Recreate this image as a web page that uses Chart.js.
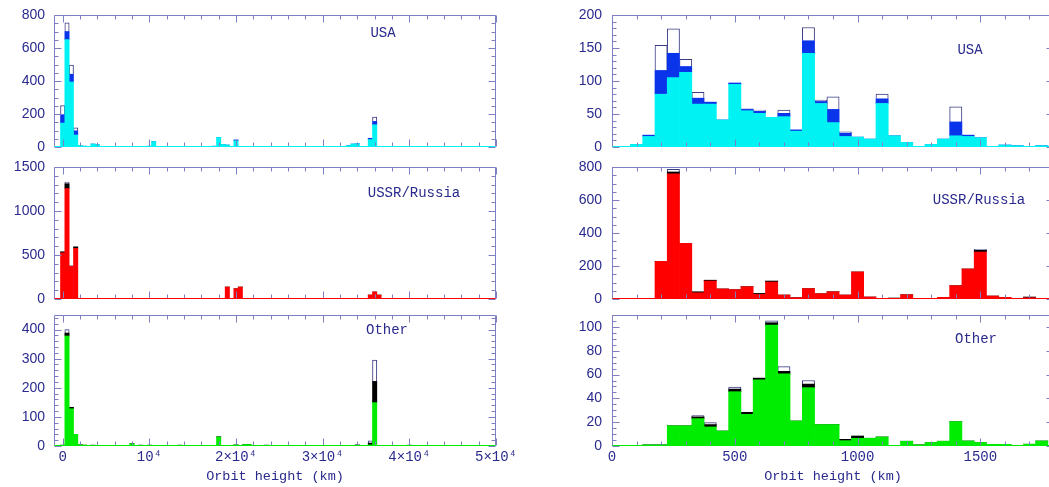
<!DOCTYPE html>
<html>
<head>
<meta charset="utf-8">
<script src="https://cdn.jsdelivr.net/npm/chart.js@4.4.0/dist/chart.umd.min.js"></script>
<style>
  html, body { margin: 0; padding: 0; background: #fff; overflow: hidden; width: 1049px; height: 487px; }
  canvas { position: absolute; }
</style>
</head>
<body>
<canvas id="usaLeft" width="530" height="165" style="left:0;top:0"></canvas>
<canvas id="usaRight" width="500" height="165" style="left:560px;top:0"></canvas>
<canvas id="ussrLeft" width="530" height="160" style="left:0;top:155px"></canvas>
<canvas id="ussrRight" width="500" height="160" style="left:560px;top:155px"></canvas>
<canvas id="otherLeft" width="530" height="187" style="left:0;top:300px"></canvas>
<canvas id="otherRight" width="500" height="187" style="left:560px;top:300px"></canvas>
<script>
// ---- left column: 500 km bins (bin centres), only the non empty ones ----
var leftUsaBins  = [0, 500, 1000, 1500, 2000, 2500, 3500, 4000, 5000, 7000, 10000, 10500, 12000, 15500, 16000, 17500, 18000, 18500, 19000, 20000, 21000, 25500, 33000, 33500, 34000, 34500, 35500, 36000, 36500, 39000, 44000];
var leftUsaCyan  = [145, 651, 394, 73, 10, 5, 18, 15, 3, 0, 5, 33, 3, 0, 2, 5, 58, 15, 12, 38, 3, 0, 8, 18, 20, 3, 45, 135, 0, 0, 0];
var leftUsaBlue  = [51, 49, 47, 25, 0, 0, 0, 0, 0, 3, 0, 0, 0, 3, 0, 0, 0, 0, 0, 5, 0, 2, 0, 0, 0, 0, 8, 20, 3, 3, 2];
var leftUsaWhite = [55, 53, 55, 18, 0, 0, 0, 0, 0, 0, 0, 0, 0, 0, 0, 0, 0, 0, 0, 0, 0, 0, 0, 0, 0, 0, 0, 27, 0, 0, 0];

var leftUssrBins  = [0, 500, 1000, 1500, 2000, 9000, 19000, 20000, 20500, 35500, 36000, 36500];
var leftUssrRed   = [525, 1255, 370, 575, 3, 3, 136, 117, 136, 45, 80, 45];
var leftUssrBlack = [12, 55, 5, 18, 0, 0, 0, 0, 0, 0, 0, 0];
var leftUssrWhite = [0, 20, 0, 0, 0, 0, 0, 0, 0, 0, 0, 0];

var leftOtherBins  = [0, 500, 1000, 1500, 2000, 2500, 3500, 8000, 9000, 10000, 13500, 18000, 20000, 21000, 21500, 23500, 34000, 35500, 36000, 40000];
var leftOtherGreen = [3, 378, 128, 40, 5, 3, 0, 8, 0, 0, 0, 31, 4, 5, 5, 0, 0, 4, 149, 0];
var leftOtherBlack = [0, 10, 5, 0, 0, 0, 3, 0, 3, 3, 3, 1, 0, 0, 0, 3, 4, 6, 73, 3];
var leftOtherWhite = [0, 12, 0, 0, 0, 0, 0, 0, 0, 0, 0, 0, 0, 0, 0, 0, 0, 8, 73, 0];

var leftXTicks  = [0, 10000, 20000, 30000, 40000, 50000];
var leftXLabels = ['0', '10\u2074', '2\u00d710\u2074', '3\u00d710\u2074', '4\u00d710\u2074', '5\u00d710\u2074'];

// ---- right column: 50 km bins (bin centres) ----
var rightBins = [0, 50, 100, 150, 200, 250, 300, 350, 400, 450, 500, 550, 600, 650, 700, 750, 800, 850, 900, 950,
                 1000, 1050, 1100, 1150, 1200, 1250, 1300, 1350, 1400, 1450, 1500, 1550, 1600, 1650, 1700, 1750];

var rightUsaCyan  = [0, 1, 4, 16, 80, 105, 113, 65, 65, 41, 95, 55, 51, 45, 46, 24, 142, 66, 37, 16, 15, 12, 66, 17, 7, 1, 4, 12, 17, 16, 14, 1, 3, 2, 1, 2];
var rightUsaBlue  = [0, 0, 0, 2, 36, 37, 9, 9, 3, 0, 2, 2, 3, 0, 5, 2, 19, 3, 20, 5, 0, 0, 7, 0, 0, 0, 0, 0, 21, 2, 0, 0, 0, 0, 0, 0];
var rightUsaWhite = [0, 0, 0, 0, 38, 37, 11, 9, 0, 0, 0, 1, 2, 0, 5, 0, 20, 2, 19, 2, 0, 0, 7, 0, 0, 0, 0, 0, 23, 0, 0, 0, 0, 0, 0, 0];

var rightUssrRed   = [0, 0, 0, 2, 228, 758, 337, 38, 109, 61, 57, 75, 28, 103, 24, 8, 63, 32, 44, 24, 164, 12, 0, 0, 26, 0, 0, 10, 81, 182, 285, 18, 10, 0, 8, 0];
var rightUssrBlack = [0, 0, 0, 0, 0, 12, 0, 6, 5, 0, 0, 0, 6, 6, 0, 0, 0, 0, 0, 0, 0, 0, 0, 6, 0, 3, 0, 0, 0, 0, 10, 0, 0, 0, 4, 0];
var rightUssrWhite = [0, 0, 0, 0, 0, 16, 0, 0, 0, 0, 0, 0, 0, 0, 0, 0, 0, 0, 0, 0, 0, 0, 0, 0, 0, 0, 0, 0, 0, 0, 6, 0, 0, 0, 0, 0];

var rightOtherGreen = [0, 0, 0, 1, 1, 17, 17, 23, 16, 12.6, 45.6, 26.6, 55.5, 101.5, 60.5, 21, 49, 18, 18, 4.5, 6.5, 6.5, 7.6, 0, 4, 1, 3, 4, 20.5, 4.2, 3, 1.4, 1.4, 0, 1.5, 4.2];
var rightOtherBlack = [0, 0, 0, 0, 0, 0, 0, 1.5, 2, 0, 2.2, 1.7, 1.5, 2, 2.2, 0, 3, 0, 0, 1.1, 1.9, 0, 0, 0, 0, 0, 0, 0, 0, 0, 0, 0, 0, 0, 0, 0];
var rightOtherWhite = [0, 0, 0, 0, 0, 0, 0, 1, 1.6, 0, 1.7, 0, 0, 1.5, 4, 0, 3, 0, 0, 0, 0, 0, 0, 0, 0, 0, 0, 0, 0, 0, 0, 0, 0, 0, 0, 0];

var rightXTicks  = [0, 500, 1000, 1500];
var rightXLabels = ['0', '500', '1000', '1500'];

var FRAME = '#7e7ec2';
var TEXT = '#2a2a8e';
var OUTLINE = '#3a3a84';
var CYAN = '#00f2f2', BLUE = '#0a34ea', RED = '#ff0000', GREEN = '#00ec00', BLACK = '#000000';

function toPoints(bins, vals) {
  return bins.map(function (b, i) { return { x: b, y: vals[i] }; });
}

// frame with inward ticks on all four sides + the panel name
var framePlugin = {
  id: 'frame',
  afterDatasetsDraw: function (chart, args, o) {
    var ctx = chart.ctx, a = chart.chartArea, sx = chart.scales.x, sy = chart.scales.y;
    var L = Math.round(a.left) + 0.5, R = Math.round(a.right) - 0.5;
    var T = Math.round(a.top) + 0.5, B = Math.round(a.bottom) - 0.5;
    ctx.save();
    ctx.lineWidth = 1;
    ctx.strokeStyle = FRAME;
    function line(x1, y1, x2, y2) { ctx.beginPath(); ctx.moveTo(x1, y1); ctx.lineTo(x2, y2); ctx.stroke(); }
    var i, v, p, len;
    for (i = Math.ceil(sx.min / o.xMinor); i * o.xMinor <= sx.max; i++) {
      v = i * o.xMinor;
      p = Math.round(sx.getPixelForValue(v)) + 0.5;
      len = (v % o.xMajor === 0) ? 7 : 4;
      line(p, B, p, B - len);
      line(p, T, p, T + len);
    }
    for (i = Math.ceil(sy.min / o.yMinor); i * o.yMinor <= sy.max; i++) {
      v = i * o.yMinor;
      p = Math.round(sy.getPixelForValue(v)) + 0.5;
      len = (v % o.yMajor === 0) ? 7 : 4;
      line(L, p, L + len, p);
      line(R, p, R - len, p);
    }
    line(L, T, R, T);
    line(L, T, L, B);
    line(R, T, R, B);
    ctx.strokeStyle = o.base;
    line(L, B, R, B);
    ctx.restore();
  },
  afterDraw: function (chart, args, o) {
    var ctx = chart.ctx, a = chart.chartArea;
    ctx.save();
    ctx.fillStyle = TEXT;
    ctx.font = '14px "Liberation Mono", monospace';
    ctx.textAlign = 'center';
    ctx.textBaseline = 'middle';
    ctx.fillText(o.label, a.left + o.labelX, a.top + o.labelY);
    ctx.restore();
  }
};

function makePanel(id, p) {
  var ctx = document.getElementById(id).getContext('2d');
  return new Chart(ctx, {
    type: 'bar',
    data: {
      datasets: [
        { data: toPoints(p.bins, p.layers[0]), backgroundColor: p.colors[0], borderWidth: 0 },
        { data: toPoints(p.bins, p.layers[1]), backgroundColor: p.colors[1], borderWidth: 0 },
        { data: toPoints(p.bins, p.layers[2]), backgroundColor: '#ffffff', borderColor: OUTLINE, borderWidth: 1, borderSkipped: 'bottom' }
      ]
    },
    options: {
      responsive: false,
      maintainAspectRatio: false,
      animation: false,
      devicePixelRatio: 1,
      events: [],
      categoryPercentage: 1,
      barPercentage: 1,
      layout: { padding: { top: p.padTop, right: p.padRight, left: 0, bottom: 0 } },
      plugins: {
        legend: { display: false },
        tooltip: { enabled: false },
        frame: {
          base: p.colors[0], label: p.label, labelX: p.labelX, labelY: p.labelY,
          xMinor: p.xMinor, xMajor: p.xMajor, yMinor: p.yMinor, yMajor: p.yMajor
        }
      },
      scales: {
        x: {
          type: 'linear',
          stacked: true,
          offset: false,
          min: p.xMin,
          max: p.xMax,
          grid: { display: false, drawTicks: false },
          border: { display: false },
          afterBuildTicks: function (s) { s.ticks = p.xTicks.map(function (v) { return { value: v }; }); },
          afterFit: function (s) { s.height = p.xAxisH; s.paddingLeft = 0; s.paddingRight = 0; },
          ticks: {
            display: p.showX,
            autoSkip: false,
            maxRotation: 0,
            padding: 3,
            color: TEXT,
            font: { family: '"Liberation Mono", monospace', size: 14 },
            callback: function (v, i) { return p.xLabels[i]; }
          },
          title: {
            display: p.showX,
            text: 'Orbit height (km)',
            color: TEXT,
            font: { family: '"Liberation Mono", monospace', size: 13.5 },
            padding: { top: 0, bottom: 2 }
          }
        },
        y: {
          stacked: true,
          min: 0,
          max: p.yMax,
          grid: { display: false, drawTicks: false },
          border: { display: false },
          afterBuildTicks: function (s) { s.ticks = p.yTicks.map(function (v) { return { value: v }; }); },
          afterFit: function (s) { s.width = p.yW; s.paddingTop = 0; s.paddingBottom = 0; },
          ticks: {
            padding: p.yPad,
            color: TEXT,
            font: { family: '"Liberation Sans", Arial, sans-serif', size: 14 },
            callback: function (v) { return String(v); }
          }
        }
      }
    },
    plugins: [framePlugin]
  });
}

var leftBase = { xMin: -1000, xMax: 50000, xTicks: leftXTicks, xLabels: leftXLabels, xMinor: 2000, xMajor: 10000, yW: 54, yPad: 9, padRight: 34 };
var rightBase = { xMin: 0, xMax: 1800, xTicks: rightXTicks, xLabels: rightXLabels, xMinor: 100, xMajor: 500, yW: 52, yPad: 10, padRight: 6 };

function panel(base, extra) {
  return Object.assign({}, base, extra);
}

// top row: plot area 15..147, middle row 167..299, bottom row 315..446
makePanel('usaLeft', panel(leftBase, {
  bins: leftUsaBins, layers: [leftUsaCyan, leftUsaBlue, leftUsaWhite], colors: [CYAN, BLUE],
  yMax: 800, yTicks: [0, 200, 400, 600, 800], yMinor: 50, yMajor: 200,
  padTop: 15, xAxisH: 18, showX: false, label: 'USA', labelX: 329, labelY: 18
}));
makePanel('usaRight', panel(rightBase, {
  bins: rightBins, layers: [rightUsaCyan, rightUsaBlue, rightUsaWhite], colors: [CYAN, BLUE],
  yMax: 200, yTicks: [0, 50, 100, 150, 200], yMinor: 10, yMajor: 50,
  padTop: 15, xAxisH: 18, showX: false, label: 'USA', labelX: 358, labelY: 35
}));
makePanel('ussrLeft', panel(leftBase, {
  bins: leftUssrBins, layers: [leftUssrRed, leftUssrBlack, leftUssrWhite], colors: [RED, BLACK],
  yMax: 1500, yTicks: [0, 500, 1000, 1500], yMinor: 100, yMajor: 500,
  padTop: 12, xAxisH: 16, showX: false, label: 'USSR/Russia', labelX: 360, labelY: 26
}));
makePanel('ussrRight', panel(rightBase, {
  bins: rightBins, layers: [rightUssrRed, rightUssrBlack, rightUssrWhite], colors: [RED, BLACK],
  yMax: 800, yTicks: [0, 200, 400, 600, 800], yMinor: 50, yMajor: 200,
  padTop: 12, xAxisH: 16, showX: false, label: 'USSR/Russia', labelX: 367, labelY: 33
}));
makePanel('otherLeft', panel(leftBase, {
  bins: leftOtherBins, layers: [leftOtherGreen, leftOtherBlack, leftOtherWhite], colors: [GREEN, BLACK],
  yMax: 450, yTicks: [0, 100, 200, 300, 400], yMinor: 20, yMajor: 100,
  padTop: 15, xAxisH: 41, showX: true, label: 'Other', labelX: 333, labelY: 15
}));
makePanel('otherRight', panel(rightBase, {
  bins: rightBins, layers: [rightOtherGreen, rightOtherBlack, rightOtherWhite], colors: [GREEN, BLACK],
  yMax: 110, yTicks: [0, 20, 40, 60, 80, 100], yMinor: 5, yMajor: 20,
  padTop: 15, xAxisH: 41, showX: true, label: 'Other', labelX: 364, labelY: 24
}));
</script>
</body>
</html>
